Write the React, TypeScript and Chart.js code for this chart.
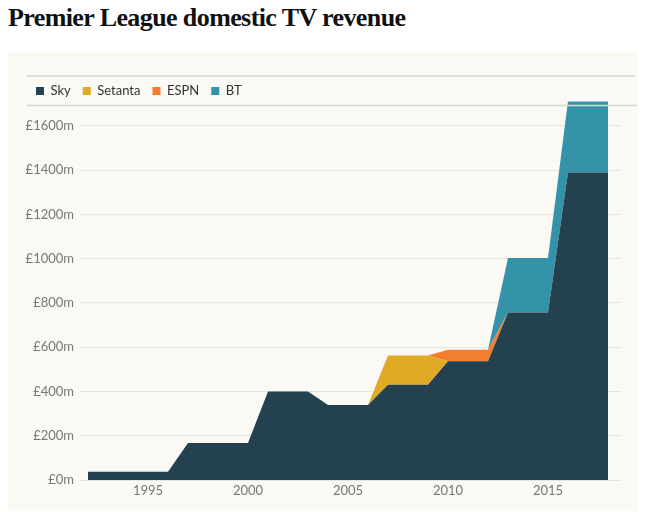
import React, { useEffect, useRef } from "react";
import { Chart, registerables } from "chart.js";

Chart.register(...registerables);

const years = [
  1992, 1993, 1994, 1995, 1996, 1997, 1998, 1999, 2000, 2001, 2002, 2003, 2004,
  2005, 2006, 2007, 2008, 2009, 2010, 2011, 2012, 2013, 2014, 2015, 2016, 2017, 2018,
];
const sky = [
  37, 37, 37, 37, 37, 167, 167, 167, 167, 400, 400, 400, 339, 339, 339, 431, 431, 431,
  537, 537, 537, 757, 757, 757, 1390, 1390, 1390,
];
const setanta = [
  0, 0, 0, 0, 0, 0, 0, 0, 0, 0, 0, 0, 0, 0, 0, 132, 132, 132, 0, 0, 0, 0, 0, 0, 0, 0, 0,
];
const espn = [
  0, 0, 0, 0, 0, 0, 0, 0, 0, 0, 0, 0, 0, 0, 0, 0, 0, 0, 52, 52, 52, 0, 0, 0, 0, 0, 0,
];
const bt = [
  0, 0, 0, 0, 0, 0, 0, 0, 0, 0, 0, 0, 0, 0, 0, 0, 0, 0, 0, 0, 0, 246, 246, 246, 322, 322, 322,
];
const seriesNames = ["Sky", "Setanta", "ESPN", "BT"];
const seriesColors = ["#24414f", "#e0aa26", "#f47e30", "#3493a8"];
const yTicks = [0, 200, 400, 600, 800, 1000, 1200, 1400, 1600];
const xTicks = [1995, 2000, 2005, 2010, 2015];

const FONT = "Lato, 'Open Sans', sans-serif";

export default function App() {
  const ref = useRef<HTMLCanvasElement | null>(null);

  useEffect(() => {
    if (!ref.current) return;
    const values = [sky, setanta, espn, bt];
    const datasets = values.map((arr, i) => ({
      label: seriesNames[i],
      data: arr.map((v, j) => ({ x: years[j], y: v })),
      backgroundColor: seriesColors[i],
      borderColor: seriesColors[i],
      borderWidth: 0,
      pointRadius: 0,
      pointHoverRadius: 0,
      tension: 0,
      fill: i === 0 ? "origin" : "-1",
    }));

    const lines = {
      id: "sepLines",
      afterDatasetsDraw(chart: any) {
        const { ctx, legend, chartArea } = chart;
        ctx.save();
        ctx.strokeStyle = "#d9d7d0";
        ctx.lineWidth = 1.5;
        const y1 = legend.top + 3.5;
        const y2 = chartArea.top + 4.3;
        ctx.beginPath();
        ctx.moveTo(19, y1);
        ctx.lineTo(627, y1);
        ctx.moveTo(19, y2);
        ctx.lineTo(629, y2);
        ctx.stroke();
        ctx.restore();
      },
    };

    const chart = new Chart(ref.current, {
      type: "line",
      data: { datasets } as any,
      plugins: [lines],
      options: {
        responsive: false,
        animation: false,
        events: [],
        layout: { padding: { left: 16, top: 20.5, right: 18, bottom: 0 } },
        plugins: {
          tooltip: { enabled: false },
          legend: {
            display: true,
            position: "top",
            align: "start",
            maxHeight: 28.7,
            labels: {
              boxWidth: 8,
              boxHeight: 8,
              padding: 12,
              color: "#333",
              font: { family: FONT, size: 13 },
            },
          },
        },
        scales: {
          x: {
            type: "linear",
            min: 1991.6,
            max: 2018.6,
            grid: { display: false, drawTicks: false },
            border: { display: false },
            afterBuildTicks: (axis: any) => {
              axis.ticks = xTicks.map((v) => ({ value: v }));
            },
            afterFit: (s: any) => {
              s.height = 31;
            },
            ticks: {
              padding: 3,
              color: "#777",
              font: { family: FONT, size: 13 },
              maxRotation: 0,
              autoSkip: false,
              callback: (v: any) => String(v),
            },
          },
          y: {
            type: "linear",
            stacked: true,
            min: 0,
            max: 1712,
            grid: { color: "#e6e4de", lineWidth: 1, drawTicks: false },
            border: { display: false },
            afterBuildTicks: (axis: any) => {
              axis.ticks = yTicks.map((v) => ({ value: v }));
            },
            afterFit: (s: any) => {
              s.width = 56;
            },
            ticks: {
              padding: 6,
              color: "#777",
              font: { family: FONT, size: 13 },
              callback: (v: any) => `£${v}m`,
            },
          },
        },
      } as any,
    });
    return () => chart.destroy();
  }, []);

  return (
    <div>
      <div
        style={{
          height: 44,
          fontFamily: "'Liberation Serif', serif",
          fontWeight: "bold",
          fontSize: 26,
          lineHeight: "20px",
          color: "#111",
          letterSpacing: "-0.6px",
          whiteSpace: "nowrap",
        }}
      >
        Premier League domestic TV revenue
      </div>
      <div style={{ width: 630, height: 459, background: "#faf9f4" }}>
        <canvas ref={ref} width={630} height={459} style={{ display: "block" }} />
      </div>
    </div>
  );
}
